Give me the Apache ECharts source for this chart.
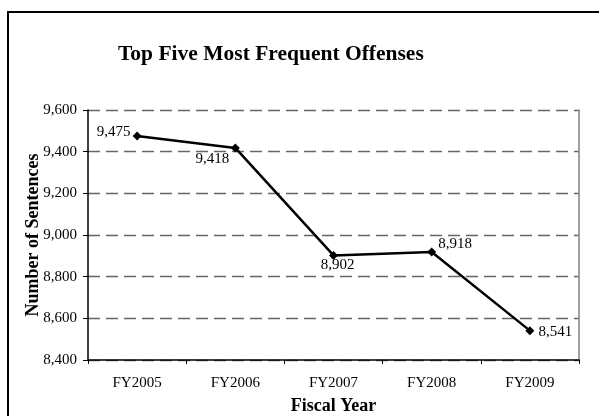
<!DOCTYPE html>
<html>
<head>
<meta charset="utf-8">
<script src="https://cdn.jsdelivr.net/npm/echarts@6/dist/echarts.min.js"></script>
<style>html,body{margin:0;padding:0;background:#fff}#c{width:599px;height:416px}</style>
</head>
<body>
<div id="c"></div>
<script>
var categories = ['FY2005', 'FY2006', 'FY2007', 'FY2008', 'FY2009'];
var sentences = [9475, 9418, 8902, 8918, 8541];
var labelPositions = ['left', 'bottomLeft', 'bottom', 'topRight', 'right'];
var titleText = 'Top Five Most Frequent Offenses';
var yName = 'Number of Sentences';
var xName = 'Fiscal Year';

var FONT = '"Liberation Serif", "Times New Roman", serif';
function fmt(v) { return v.toLocaleString('en-US'); }

var labelCfg = {
  left: { position: 'left', distance: 2, offset: [0, -4] },
  bottomLeft: { position: 'bottom', distance: 5, offset: [-23, -6] },
  bottom: { position: 'bottom', distance: 0, offset: [4, -2] },
  topRight: { position: 'right', distance: 2, offset: [0, -8] },
  right: { position: 'right', distance: 4, offset: [0, 1] }
};

var seriesData = sentences.map(function (v, i) {
  var c = labelCfg[labelPositions[i]];
  return { value: v, label: { show: true, position: c.position, distance: c.distance, offset: c.offset } };
});

var chart = echarts.init(document.getElementById('c'), null, { renderer: 'canvas' });
chart.setOption({
  animation: false,
  backgroundColor: '#fff',
  textStyle: { fontFamily: FONT },
  title: {
    text: titleText,
    left: 113, top: 38,
    textStyle: { fontFamily: FONT, fontWeight: 'bold', fontSize: 21.5, color: '#000' }
  },
  graphic: [{
    type: 'rect', shape: { x: 8, y: 12, width: 620, height: 420 },
    style: { fill: 'none', stroke: '#000', lineWidth: 2 }, silent: true, z: 100
  }],
  grid: { left: 88, top: 110, right: 20, bottom: 56, containLabel: false, outerBoundsMode: 'none' },
  xAxis: {
    type: 'category', data: categories, boundaryGap: true,
    name: xName, nameLocation: 'middle', nameGap: 37, nameMoveOverlap: false,
    nameTextStyle: { fontFamily: FONT, fontWeight: 'bold', fontSize: 18, color: '#000' },
    axisLine: { lineStyle: { color: '#000', width: 1.5 } },
    axisTick: { show: true, length: 4, lineStyle: { color: '#000' } },
    axisLabel: { fontFamily: FONT, fontSize: 15, color: '#000', margin: 16 },
    splitLine: { show: false }
  },
  yAxis: [{
    type: 'value', min: 8400, max: 9600, interval: 200,
    name: yName, nameLocation: 'middle', nameGap: 46, nameMoveOverlap: false,
    nameTextStyle: { fontFamily: FONT, fontWeight: 'bold', fontSize: 18, color: '#000' },
    axisLine: { show: true, lineStyle: { color: '#000', width: 1.5 } },
    axisTick: { show: true, length: 5, lineStyle: { color: '#000' } },
    axisLabel: { fontFamily: FONT, fontSize: 15, color: '#000', margin: 11, formatter: fmt },
    splitLine: { show: true, lineStyle: { color: '#666', width: 1.4, type: [12, 6] } }
  }, {
    type: 'value', min: 8400, max: 9600, interval: 200, position: 'right',
    axisLine: { show: true, lineStyle: { color: '#808080', width: 1.5 } },
    axisTick: { show: false }, axisLabel: { show: false }, splitLine: { show: false }
  }],
  series: [{
    type: 'line', data: seriesData, yAxisIndex: 0,
    symbol: 'diamond', symbolSize: 9,
    lineStyle: { color: '#000', width: 2.5 },
    itemStyle: { color: '#000' },
    label: { fontFamily: FONT, fontSize: 15, color: '#000', formatter: function (p) { return fmt(p.value); } }
  }]
});
</script>
</body>
</html>
